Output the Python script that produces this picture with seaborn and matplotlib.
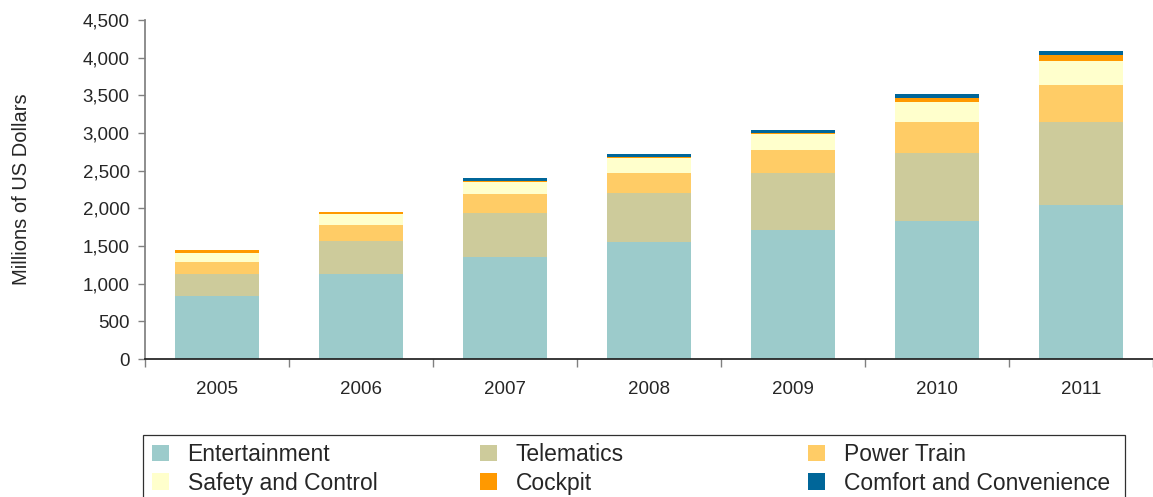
import matplotlib
matplotlib.use("Agg")
import matplotlib.pyplot as plt
import seaborn as sns
import pandas as pd
import numpy as np
from matplotlib.patches import Patch, Rectangle
from matplotlib.ticker import FuncFormatter, FixedLocator

years = ["2005", "2006", "2007", "2008", "2009", "2010", "2011"]
entertainment = [838, 1125, 1355, 1553, 1712, 1831, 2047]
telematics = [287, 441, 582, 650, 755, 900, 1095]
power_train = [163, 212, 252, 264, 304, 411, 490]
safety_control = [119, 146, 159, 203, 212, 265, 318]
cockpit = [40, 26, 17, 13, 17, 53, 92]
comfort = [5, 5, 35, 35, 36, 53, 53]

series_names = ["Entertainment", "Telematics", "Power Train",
                "Safety and Control", "Cockpit", "Comfort and Convenience"]
series_vals = [entertainment, telematics, power_train, safety_control, cockpit, comfort]
colors = ["#9CCBCB", "#CDCB9B", "#FFCC66", "#FFFFCC", "#FF9900", "#006699"]

sns.set_theme(style="white")
plt.rcParams['font.family'] = ['Liberation Sans', 'DejaVu Sans']

W, H = 1153, 497
df = pd.DataFrame({"Year": years})
cum = np.zeros(len(years))
for name, vals in zip(series_names, series_vals):
    cum = cum + np.array(vals)
    df[name] = cum.copy()

fig = plt.figure(figsize=(W/100, H/100), dpi=100)
ax = fig.add_axes([145/W, 1-359/H, 1-145/W, (359-20)/H])

for name, col in reversed(list(zip(series_names, colors))):
    sns.barplot(data=df, x="Year", y=name, color=col, width=0.585,
                saturation=1, ax=ax, linewidth=0, edgecolor="none")

ax.set_xlim(-0.5, 6.5)
ax.set_ylim(0, 4500)
ax.set_yticks(np.arange(0, 4501, 500))
ax.yaxis.set_major_formatter(FuncFormatter(lambda v, p: f"{int(v):,}"))
ax.set_xlabel("")
ax.set_ylabel("Millions of US Dollars", fontsize=14.5, labelpad=37)
ax.tick_params(axis="y", labelsize=13.5, length=5, width=1, color="#808080",
               left=True, direction="out", pad=6)
ax.tick_params(axis="x", which="major", labelsize=13.5, length=0, pad=16)
ax.xaxis.set_minor_locator(FixedLocator(np.arange(-0.5, 7, 1)))
ax.tick_params(axis="x", which="minor", length=6, width=1, color="#808080",
               bottom=True, direction="out")
for s in ["top", "right"]:
    ax.spines[s].set_visible(False)
ax.spines["left"].set_color("#808080")
ax.spines["bottom"].set_color("#202020")
ax.grid(False)

# legend frame
fig.patches.append(Rectangle((143/W, -0.02), (1125-143)/W, 0.02 + 1-435/H,
                             transform=fig.transFigure, facecolor="white",
                             edgecolor="#303030", linewidth=0.9, zorder=0))

handles = [Patch(facecolor=c, edgecolor="none") for c in colors]
col_x = [152, 480, 808]
for j in range(3):
    idx = [j, j + 3]
    fig.legend([handles[i] for i in idx], [series_names[i] for i in idx],
               ncol=1, loc="upper left",
               bbox_to_anchor=(col_x[j]/W, 1-443/H),
               fontsize=16.5, frameon=False,
               handlelength=0.75, handleheight=0.75, handletextpad=0.8,
               borderaxespad=0, borderpad=0, labelspacing=0.25)

fig.savefig("out.png", dpi=100)
